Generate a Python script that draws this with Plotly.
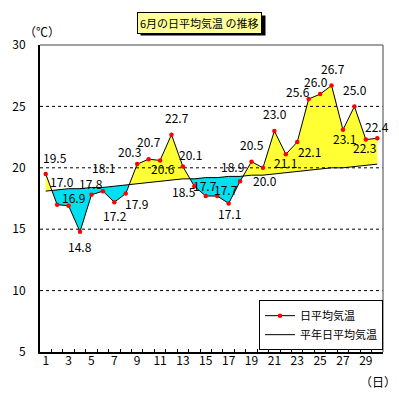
import plotly.graph_objects as go

days = list(range(1, 31))
daily_avg = [19.5, 17.0, 16.9, 14.8, 17.8, 18.1, 17.2, 17.9, 20.3, 20.7,
             20.6, 22.7, 20.1, 18.5, 17.7, 17.7, 17.1, 18.9, 20.5, 20.0,
             23.0, 21.1, 22.1, 25.6, 26.0, 26.7, 23.1, 25.0, 22.3, 22.4]
normal_avg = [18.1, 18.2, 18.3, 18.3, 18.4, 18.4, 18.5, 18.6, 18.7, 18.8,
              18.9, 19.0, 19.1, 19.1, 19.2, 19.2, 19.3, 19.3, 19.4, 19.4,
              19.5, 19.6, 19.7, 19.8, 19.9, 20.0, 20.0, 20.1, 20.2, 20.3]
x_tick_days = list(range(1, 30, 2))
x_tick_labels = [str(d) for d in x_tick_days]
y_ticks = [5, 10, 15, 20, 25, 30]
grid_vals = [10, 15, 20, 25]

# label offsets in px (dx, dy downward) – layout only
label_offsets = [(9, -16), (5, -23), (5, -8), (0, 15), (0, -11), (1, -24), (1, 13),
                 (11, 10), (-8, -13), (0, -18), (3, 8), (6, -17), (8, -12), (-10, 5),
                 (-1, -11), (9, -7), (1, 10), (-8, -15), (0, -17), (2, 13), (1, -17),
                 (0, 8), (12, 9), (-11, -8), (-4, -13), (1, -17), (2, 9), (1, -17),
                 (-1, 8), (0, -12)]

YELLOW = "#FFFF33"
CYAN = "#00E0F0"
FONT = "Noto Sans CJK JP"


def densify(x, a, n):
    xs, As, Ns = [x[0]], [a[0]], [n[0]]
    for i in range(len(x) - 1):
        d0 = a[i] - n[i]
        d1 = a[i + 1] - n[i + 1]
        if d0 * d1 < 0:
            t = d0 / (d0 - d1)
            xc = x[i] + t * (x[i + 1] - x[i])
            yc = n[i] + t * (n[i + 1] - n[i])
            xs.append(xc); As.append(yc); Ns.append(yc)
        xs.append(x[i + 1]); As.append(a[i + 1]); Ns.append(n[i + 1])
    return xs, As, Ns


xs, As, Ns = densify(days, daily_avg, normal_avg)
upper = [max(p, q) for p, q in zip(As, Ns)]
lower = [min(p, q) for p, q in zip(As, Ns)]
x_lo, x_hi = days[0] - 0.5, days[-1] + 0.5
boundaries = [d - 0.5 for d in days] + [x_hi]

fig = go.Figure()
fig.add_trace(go.Scatter(x=xs + xs[::-1], y=upper + Ns[::-1], fill="toself",
                         fillcolor=YELLOW, line=dict(width=0), mode="lines",
                         showlegend=False, hoverinfo="skip"))
fig.add_trace(go.Scatter(x=xs + xs[::-1], y=lower + Ns[::-1], fill="toself",
                         fillcolor=CYAN, line=dict(width=0), mode="lines",
                         showlegend=False, hoverinfo="skip"))
for g in grid_vals:
    fig.add_trace(go.Scatter(x=[x_lo, x_hi], y=[g, g], mode="lines",
                             line=dict(color="black", width=1, dash="3px,3px"),
                             showlegend=False, hoverinfo="skip"))
fig.add_trace(go.Scatter(x=days, y=daily_avg, mode="lines+markers",
                         name="日平均気温",
                         line=dict(color="black", width=1),
                         marker=dict(color="red", size=4.5, symbol="circle")))
fig.add_trace(go.Scatter(x=days, y=normal_avg, mode="lines",
                         name="平年日平均気温",
                         line=dict(color="black", width=1)))
# invisible trace to carry the labelling axis
fig.add_trace(go.Scatter(x=days, y=normal_avg, xaxis="x2", mode="lines",
                         line=dict(width=0), opacity=0, showlegend=False,
                         hoverinfo="skip"))

annotations = []
for d, v, (dx, dy) in zip(days, daily_avg, label_offsets):
    annotations.append(dict(x=d, y=v, xref="x", yref="y", text=f"{v:.1f}",
                            showarrow=False, xshift=dx, yshift=-dy,
                            xanchor="center", yanchor="middle",
                            font=dict(family=FONT, size=12, color="black")))

TITLE_X, TITLE_Y = 0.465, 1.073
title_text = "6月の日平均気温 の推移"
annotations.append(dict(x=TITLE_X, y=TITLE_Y, xref="paper", yref="paper", text=title_text,
                        showarrow=False, bgcolor="#FFFF99",
                        xanchor="center", yanchor="middle",
                        bordercolor="black", borderwidth=1, borderpad=2,
                        font=dict(family=FONT, size=11, color="black")))
annotations.append(dict(x=0.006, y=1.043, xref="paper", yref="paper", text="（℃）",
                        showarrow=False, xanchor="center", yanchor="middle",
                        font=dict(family=FONT, size=12, color="black")))
annotations.append(dict(x=0.985, y=-0.095, xref="paper", yref="paper", text="（日）",
                        showarrow=False, xanchor="center", yanchor="middle",
                        font=dict(family=FONT, size=12, color="black")))

fig.update_layout(
    width=399, height=400,
    margin=dict(l=37, r=16, t=45, b=48),
    paper_bgcolor="white", plot_bgcolor="white",
    font=dict(family=FONT, size=12, color="black"),
    annotations=annotations,
    shapes=[
        dict(type="line", xref="paper", yref="paper", x0=0, x1=1, y0=1, y1=1,
             line=dict(color="#808080", width=1.5), layer="above"),
        dict(type="line", xref="paper", yref="paper", x0=1, x1=1, y0=0, y1=1,
             line=dict(color="#808080", width=1.5), layer="above"),
        # drop shadow of the title box
        dict(type="rect", xref="paper", yref="paper",
             xsizemode="pixel", ysizemode="pixel",
             xanchor=TITLE_X, yanchor=TITLE_Y,
             x0=-59, x1=66, y0=-13, y1=7,
             fillcolor="black", line=dict(width=0), layer="above"),
    ],
    legend=dict(x=1, y=0.006, xanchor="right", yanchor="bottom",
                bgcolor="white", bordercolor="black", borderwidth=1,
                font=dict(family=FONT, size=11), tracegroupgap=0),
    xaxis=dict(range=[x_lo, x_hi], tickmode="array", tickvals=boundaries,
               showticklabels=False, ticks="inside", ticklen=3,
               tickcolor="black", tickwidth=1,
               showgrid=False, zeroline=False,
               showline=True, linecolor="black", linewidth=2),
    xaxis2=dict(range=[x_lo, x_hi], overlaying="x", anchor="y", side="bottom",
                tickmode="array", tickvals=x_tick_days, ticktext=x_tick_labels,
                ticks="", showgrid=False, zeroline=False, showline=False,
                tickfont=dict(family=FONT, size=12)),
    yaxis=dict(range=[5, 30], tickmode="array", tickvals=y_ticks,
               ticks="", showgrid=False, zeroline=False,
               showline=True, linecolor="black", linewidth=2,
               ticklabelstandoff=10,
               tickfont=dict(family=FONT, size=12)),
)

fig.write_html("out.html", post_script="document.body.style.margin='0';",
               config={"displayModeBar": False})
